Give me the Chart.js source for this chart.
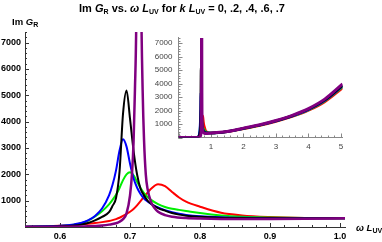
<!DOCTYPE html>
<html>
<head>
<meta charset="utf-8">
<script src="https://cdn.jsdelivr.net/npm/chart.js@4.4.1/dist/chart.umd.min.js"></script>
<style>
  body { margin: 0; background: #fff; }
  #wrap { position: relative; width: 382px; height: 242px; font-family: 'Liberation Sans', Arial, sans-serif; }
  canvas { position: absolute; left: 0; top: 0; }
  .lbl { position: absolute; white-space: nowrap; color: #000; font-weight: bold; }
  .sub { font-size: 7px; position: relative; top: 2px; }
  #title { left: 0; width: 364px; top: 2px; text-align: center; font-size: 11px; }
  #ylab { left: 12px; top: 16px; font-size: 9.5px; }
  #xlab { left: 356px; top: 222px; font-size: 9.5px; }
</style>
</head>
<body>
<div id="wrap">
  <canvas id="mainChart" width="382" height="242"></canvas>
  <canvas id="insetChart" width="382" height="242"></canvas>
  <div class="lbl" id="title">Im <i>G</i><span class="sub">R</span> vs. <i>ω L</i><span class="sub">UV</span> for <i>k L</i><span class="sub">UV</span> = 0, .2, .4, .6, .7</div>
  <div class="lbl" id="ylab">Im <i>G</i><span class="sub">R</span></div>
  <div class="lbl" id="xlab"><i>ω L</i><span class="sub">UV</span></div>
</div>
<script>
// omega grid (main plot) shared by the first four curves
const omega = [0.55, 0.58, 0.60, 0.62, 0.63, 0.64, 0.65, 0.66, 0.67, 0.675, 0.68, 0.685, 0.69, 0.695, 0.70, 0.705, 0.71, 0.715, 0.72, 0.725, 0.73, 0.74, 0.75, 0.76, 0.77, 0.78, 0.80, 0.83, 0.86, 0.90, 0.95, 1.01];
const imRed   = [10, 30, 50, 80, 100, 125, 150, 185, 230, 260, 300, 350, 420, 500, 580, 680, 820, 980, 1150, 1300, 1450, 1620, 1550, 1330, 1120, 960, 770, 540, 440, 380, 345, 330];
const imGreen = [10, 20, 40, 90, 140, 240, 400, 600, 860, 1030, 1220, 1480, 1780, 2000, 2080, 1960, 1720, 1480, 1290, 1140, 1030, 870, 760, 690, 650, 610, 530, 440, 390, 360, 340, 330];
const imBlue  = [10, 25, 45, 100, 150, 250, 420, 700, 1200, 1600, 2150, 2900, 3330, 3050, 2400, 1850, 1500, 1250, 1080, 970, 880, 740, 640, 560, 500, 460, 410, 370, 350, 340, 335, 330];
const imBlack = [5, 12, 25, 55, 90, 150, 250, 380, 560, 800, 1100, 2100, 4300, 5180, 4100, 2900, 2000, 1450, 1200, 1000, 880, 720, 620, 530, 470, 430, 390, 355, 340, 335, 330, 330];

// purple (k L = .7) needs a finer grid around its spike
const omegaPurple = [0.55, 0.60, 0.64, 0.66, 0.67, 0.68, 0.685, 0.69, 0.695, 0.70, 0.703, 0.705, 0.707, 0.709, 0.711, 0.7125, 0.714, 0.716, 0.718, 0.72, 0.7225, 0.725, 0.73, 0.735, 0.74, 0.75, 0.76, 0.78, 0.80, 0.83, 0.86, 0.90, 0.95, 1.01];
const imPurple = [0, 10, 30, 60, 90, 140, 200, 300, 520, 1200, 2100, 3200, 5200, 8000, 16000, 25000, 16000, 8500, 5200, 3300, 2000, 1450, 950, 720, 580, 450, 390, 340, 320, 305, 300, 305, 315, 330];

// inset: start of range and the rising tail out to omega L = 5
const omegaHead = [0, 0.4];
const imHead = [0, 0];
const omegaTail = [1.5, 2, 2.5, 3, 3.5, 4, 4.5, 5.05];
const tailRed    = [420, 650, 890, 1190, 1550, 2010, 2650, 3680];
const tailGreen  = [430, 665, 910, 1215, 1585, 2060, 2720, 3780];
const tailBlue   = [435, 672, 920, 1230, 1600, 2080, 2750, 3830];
const tailBlack  = [440, 680, 930, 1240, 1615, 2100, 2780, 3870];
const tailPurple = [450, 695, 950, 1265, 1650, 2150, 2850, 3980];

const kLabels = ['0', '.2', '.4', '.6', '.7'];
const colors = ['#ff0000', '#00ee00', '#0000ff', '#000000', '#800080'];

const mainTicksX = [0.6, 0.7, 0.8, 0.9, 1.0];
const mainTicksY = [1000, 2000, 3000, 4000, 5000, 6000, 7000];
const insetTicksX = [1, 2, 3, 4, 5];
const insetTicksY = [1000, 2000, 3000, 4000, 5000, 6000, 7000];

Chart.defaults.font.family = "'Liberation Sans', Arial, sans-serif";

const pts = (xs, ys) => xs.map((x, i) => ({x: x, y: ys[i]}));

const mainSeries = [
  pts(omega, imRed), pts(omega, imGreen), pts(omega, imBlue), pts(omega, imBlack), pts(omegaPurple, imPurple)
];
const tails = [tailRed, tailGreen, tailBlue, tailBlack, tailPurple];
const insetSeries = mainSeries.map((s, i) => pts(omegaHead, imHead).concat(s, pts(omegaTail, tails[i])));

// Mathematica style ticks pointing into the plot
const inwardTicks = {
  id: 'inwardTicks',
  beforeDatasetsDraw(chart, args, o) {
    const {ctx, chartArea: a, scales} = chart;
    ctx.save();
    ctx.strokeStyle = o.color;
    ctx.lineWidth = 1;
    const mark = (scale, step, len) => {
      const first = Math.ceil(scale.min / step - 1e-9), last = Math.floor(scale.max / step + 1e-9);
      for (let i = first; i <= last; i++) {
        const p = Math.round(scale.getPixelForValue(i * step)) + 0.5;
        ctx.beginPath();
        if (scale.isHorizontal()) { ctx.moveTo(p, a.bottom); ctx.lineTo(p, a.bottom - len); }
        else { ctx.moveTo(a.left, p); ctx.lineTo(a.left + len, p); }
        ctx.stroke();
      }
    };
    mark(scales.x, o.xMinor, 2); mark(scales.x, o.xMajor, 4);
    mark(scales.y, o.yMinor, 2); mark(scales.y, o.yMajor, 4);
    ctx.restore();
  }
};

function makeDatasets(series, width) {
  return series.map((d, i) => ({
    label: 'k L = ' + kLabels[i],
    data: d,
    borderColor: colors[i],
    borderWidth: i === 4 ? width + 0.5 : width,
    pointRadius: 0,
    cubicInterpolationMode: 'monotone',
    order: 4 - i,
    clip: 0
  }));
}

new Chart(document.getElementById('mainChart'), {
  type: 'line',
  data: { datasets: makeDatasets(mainSeries, 2) },
  plugins: [inwardTicks],
  options: {
    responsive: false,
    animation: false,
    layout: { padding: { left: 0, right: 37, top: 32, bottom: 0 } },
    plugins: {
      legend: { display: false },
      tooltip: { enabled: false },
      inwardTicks: { color: '#333', xMinor: 0.02, xMajor: 0.1, yMinor: 200, yMajor: 1000 }
    },
    scales: {
      x: {
        type: 'linear', min: 0.55, max: 1.007,
        afterFit: s => { s.height = 15; },
        afterBuildTicks: s => { s.ticks = mainTicksX.map(v => ({value: v})); },
        grid: { display: false, drawTicks: false },
        border: { color: '#333', width: 1 },
        ticks: { color: '#000', padding: 4, maxRotation: 0, autoSkip: false,
                 font: { size: 9, weight: 'bold' }, callback: v => v.toFixed(1) }
      },
      y: {
        min: 0, max: 7400,
        afterFit: s => { s.width = 25; },
        afterBuildTicks: s => { s.ticks = mainTicksY.map(v => ({value: v})); },
        grid: { display: false, drawTicks: false },
        border: { color: '#333', width: 1 },
        ticks: { color: '#000', padding: 4, autoSkip: false, font: { size: 9, weight: 'bold' },
                 callback: v => String(v) }
      }
    }
  }
});

new Chart(document.getElementById('insetChart'), {
  type: 'line',
  data: { datasets: makeDatasets(insetSeries, 2.5) },
  plugins: [inwardTicks],
  options: {
    responsive: false,
    animation: false,
    layout: { padding: { left: 150, right: 39.4, top: 37.9, bottom: 89.5 } },
    plugins: {
      legend: { display: false },
      tooltip: { enabled: false },
      inwardTicks: { color: '#888', xMinor: 0.2, xMajor: 1, yMinor: 200, yMajor: 1000 }
    },
    scales: {
      x: {
        type: 'linear', min: 0, max: 5.05,
        afterFit: s => { s.height = 15; },
        afterBuildTicks: s => { s.ticks = insetTicksX.map(v => ({value: v})); },
        grid: { display: false, drawTicks: false },
        border: { color: '#888', width: 1 },
        ticks: { color: '#444', padding: 4, maxRotation: 0, autoSkip: false, font: { size: 8 },
                 callback: v => String(v) }
      },
      y: {
        min: 0, max: 7400,
        afterFit: s => { s.width = 28.5; },
        afterBuildTicks: s => { s.ticks = insetTicksY.map(v => ({value: v})); },
        grid: { display: false, drawTicks: false },
        border: { color: '#888', width: 1 },
        ticks: { color: '#444', padding: 6, autoSkip: false, font: { size: 8 },
                 callback: v => String(v) }
      }
    }
  }
});
</script>
</body>
</html>
